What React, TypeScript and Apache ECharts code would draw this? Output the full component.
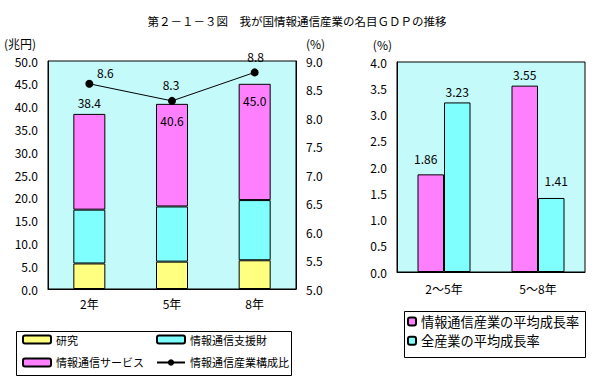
import React, { useEffect, useRef } from "react";
import * as echarts from "echarts";

const years = ["2年", "5年", "8年"];
const research = [5.6, 6.0, 6.3];
const supportGoods = [11.8, 12.1, 13.2];
const services = [21.0, 22.5, 25.5];
const totals = [38.4, 40.6, 45.0];
const shareRatio = [8.6, 8.3, 8.8];

const periods = ["2～5年", "5～8年"];
const ictGrowth = [1.86, 3.55];
const allGrowth = [3.23, 1.41];

const FONT = "'Noto Sans CJK JP', sans-serif";

export default function App() {
  const ref = useRef<HTMLDivElement>(null);
  useEffect(() => {
    if (!ref.current) return;
    const chart = echarts.init(ref.current, undefined, { renderer: "svg" });
    const yellow = "#ffff80";
    const cyan = "#80ffff";
    const magenta = "#ff80ff";
    const bg = "#c4fafa";
    const txt = { color: "#000", fontFamily: FONT, fontSize: 12 };
    const legTxt = { color: "#000", fontFamily: FONT, fontSize: 11 };
    const border = { borderColor: "#000", borderWidth: 1 };
    const lineOffsets = [[16, 4], [-1, -1], [1, -1]];
    const totalLabel = [
      { position: "top", distance: 5 },
      { position: "insideTop", distance: 11 },
      { position: "insideTop", distance: 11 },
    ];
    const rightOffsetsA = [[-5, -5], [0, 0]];
    const rightOffsetsB = [[0, 0], [5, -6]];

    const option: any = {
      animation: false,
      textStyle: { fontFamily: FONT },
      title: {
        text: "第２－１－３図　我が国情報通信産業の名目ＧＤＰの推移",
        left: "center",
        top: 10,
        textStyle: { ...txt, fontSize: 11.5, fontWeight: "normal" },
      },
      grid: [
        { left: 48, top: 61, width: 248, height: 228, show: true, backgroundColor: bg, borderColor: "#000", borderWidth: 1 },
        { left: 397, top: 62, width: 188, height: 210, show: true, backgroundColor: bg, borderColor: "#000", borderWidth: 1 },
      ],
      xAxis: [
        {
          type: "category", gridIndex: 0, data: years,
          axisLine: { lineStyle: { color: "#000" } },
          axisTick: { inside: true, length: 5, lineStyle: { color: "#000" } },
          axisLabel: { ...txt, margin: 8 },
        },
        {
          type: "category", gridIndex: 1, data: periods,
          axisLine: { lineStyle: { color: "#000" } },
          axisTick: { inside: true, length: 5, lineStyle: { color: "#000" } },
          axisLabel: { ...txt, margin: 10 },
        },
      ],
      yAxis: [
        {
          type: "value", gridIndex: 0, min: 0, max: 50, interval: 5,
          name: "(兆円)", nameLocation: "end", nameGap: 12,
          nameTextStyle: { ...txt, align: "right", padding: [0, 12, 0, 0] },
          axisLine: { show: true, lineStyle: { color: "#000" } },
          axisTick: { show: false }, splitLine: { show: false },
          axisLabel: { ...txt, margin: 10, formatter: (v: number) => v.toFixed(1) },
        },
        {
          type: "value", gridIndex: 0, position: "right", min: 5, max: 9, interval: 0.5,
          name: "(%)", nameLocation: "end", nameGap: 12,
          nameTextStyle: { ...txt, align: "left", padding: [0, 0, 0, 10] },
          axisLine: { show: true, lineStyle: { color: "#000" } },
          axisTick: { show: false }, splitLine: { show: false },
          axisLabel: { ...txt, margin: 10, formatter: (v: number) => v.toFixed(1) },
        },
        {
          type: "value", gridIndex: 1, min: 0, max: 4, interval: 0.5,
          name: "(%)", nameLocation: "end", nameGap: 12,
          nameTextStyle: { ...txt, align: "right", padding: [0, 5, 0, 0] },
          axisLine: { show: true, lineStyle: { color: "#000" } },
          axisTick: { show: false }, splitLine: { show: false },
          axisLabel: { ...txt, margin: 10, formatter: (v: number) => v.toFixed(1) },
        },
      ],
      legend: [
        {
          orient: "vertical", left: 22, top: 334, padding: 0, itemWidth: 28, itemHeight: 8, itemGap: 12,
          data: ["研究", "情報通信サービス"], textStyle: legTxt, selectedMode: false,
        },
        {
          orient: "vertical", left: 156, top: 334, padding: 0, itemWidth: 28, itemHeight: 8, itemGap: 12,
          data: ["情報通信支援財", "情報通信産業構成比"], textStyle: legTxt, selectedMode: false,
        },
        {
          orient: "vertical", left: 407, top: 315, padding: 0, itemWidth: 8, itemHeight: 8, itemGap: 6,
          data: ["情報通信産業の平均成長率", "全産業の平均成長率"], textStyle: { ...txt, fontSize: 13.2 }, selectedMode: false,
        },
      ],
      graphic: [
        { type: "rect", shape: { x: 16.5, y: 331.5, width: 275, height: 44 }, style: { fill: "none", stroke: "#000", lineWidth: 1 } },
        { type: "rect", shape: { x: 404.5, y: 311.5, width: 181, height: 46 }, style: { fill: "none", stroke: "#000", lineWidth: 1 } },
      ],
      series: [
        {
          name: "研究", type: "bar", stack: "gdp", xAxisIndex: 0, yAxisIndex: 0,
          barWidth: 32, data: research, itemStyle: { color: yellow, ...border },
        },
        {
          name: "情報通信支援財", type: "bar", stack: "gdp", xAxisIndex: 0, yAxisIndex: 0,
          barWidth: 32, data: supportGoods, itemStyle: { color: cyan, ...border },
        },
        {
          name: "情報通信サービス", type: "bar", stack: "gdp", xAxisIndex: 0, yAxisIndex: 0,
          barWidth: 32, itemStyle: { color: magenta, ...border },
          data: services.map((v, i) => ({
            value: v,
            label: {
              show: true, ...txt, ...totalLabel[i],
              formatter: () => totals[i].toFixed(1),
            },
          })),
        },
        {
          name: "情報通信産業構成比", type: "line", xAxisIndex: 0, yAxisIndex: 1,
          symbol: "circle", symbolSize: 8,
          itemStyle: { color: "#000" }, lineStyle: { color: "#000", width: 1 },
          data: shareRatio.map((v, i) => ({
            value: v,
            label: { show: true, position: "top", ...txt, offset: lineOffsets[i], formatter: (p: any) => p.value.toFixed(1) },
          })),
        },
        {
          name: "情報通信産業の平均成長率", type: "bar", xAxisIndex: 1, yAxisIndex: 2,
          barWidth: 26.5, barGap: "0%", itemStyle: { color: magenta, ...border },
          data: ictGrowth.map((v, i) => ({
            value: v,
            label: { show: true, position: "top", ...txt, offset: rightOffsetsA[i], formatter: (p: any) => p.value.toFixed(2) },
          })),
        },
        {
          name: "全産業の平均成長率", type: "bar", xAxisIndex: 1, yAxisIndex: 2,
          barWidth: 26.5, barGap: "0%", itemStyle: { color: cyan, ...border },
          data: allGrowth.map((v, i) => ({
            value: v,
            label: { show: true, position: "top", ...txt, offset: rightOffsetsB[i], formatter: (p: any) => p.value.toFixed(2) },
          })),
        },
      ],
    };
    chart.setOption(option);
    return () => chart.dispose();
  }, []);
  return <div ref={ref} style={{ position: "fixed", left: 0, top: 0, width: 594, height: 381, background: "#fff" }} />;
}
